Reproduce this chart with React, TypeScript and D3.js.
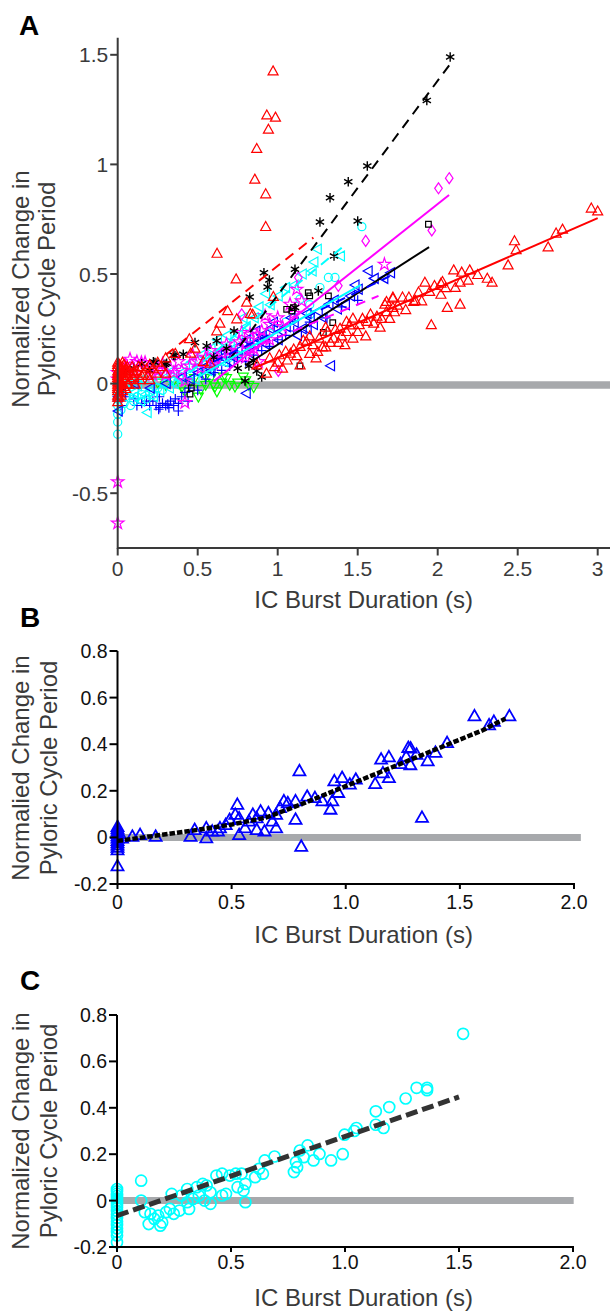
import React from "react";
import * as d3 from "d3";

type P = [number, number];

// ---------- tick values / labels ----------
const aTicksX = [0, 0.5, 1, 1.5, 2, 2.5, 3];
const aTickLabelsX = ["0", "0.5", "1", "1.5", "2", "2.5", "3"];
const aTicksY = [-0.5, 0, 0.5, 1, 1.5];
const aTickLabelsY = ["-0.5", "0", "0.5", "1", "1.5"];
const bcTicksX = [0, 0.5, 1, 1.5, 2];
const bcTickLabelsX = ["0", "0.5", "1.0", "1.5", "2.0"];
const bcTicksY = [-0.2, 0, 0.2, 0.4, 0.6, 0.8];
const bcTickLabelsY = ["-0.2", "0", "0.2", "0.4", "0.6", "0.8"];

// ---------- Panel A series ----------
const aRedSolid: P[] = [
  [0, 0.09], [0, 0.06], [0, 0.03], [0, 0.0], [0, -0.03], [0, -0.06], [0.01, 0.07], [0.01, 0.02], [0.01, -0.04],
  [0.02, 0.05], [0.02, 0.0], [0.02, -0.02], [0.03, 0.08], [0.03, 0.03], [0.04, -0.01], [0.05, 0.06], [0.05, 0.02],
  [0.06, 0.04], [0.07, 0.0], [0.08, 0.05], [0.1, 0.03], [0.12, 0.06], [0.14, 0.02], [0.16, 0.05], [0.19, 0.04], [0.22, 0.07],
  [0, 0.1], [0, 0.08], [0, 0.04], [0, 0.01], [0, -0.01], [0, -0.05], [0, -0.08], [0.01, 0.09], [0.01, 0.05], [0.01, -0.06],
  [0.02, 0.08], [0.02, -0.05], [0.03, 0.06], [0.03, 0.0], [0.03, -0.03], [0.04, 0.09], [0.04, 0.04], [0.05, -0.02],
  [0.06, 0.08], [0.06, 0.0], [0.07, 0.06], [0.08, 0.02], [0.09, 0.08], [0.1, 0.05], [0.11, 0.0], [0.13, 0.08],
  [0.15, 0.04], [0.18, 0.07], [0.2, 0.02], [0.24, 0.05], [0.27, 0.08], [0.3, 0.05],
  [0.87, 0.088], [0.93, 0.05], [0.98, 0.08], [1.01, 0.134], [1.03, 0.073], [1.08, 0.141], [1.14, 0.088], [1.14, 0.172],
  [1.18, 0.195], [1.22, 0.18], [1.25, 0.149], [1.26, 0.21], [1.31, 0.24], [1.35, 0.21], [1.39, 0.255], [1.42, 0.18],
  [1.43, 0.286], [1.43, 0.24], [1.47, 0.301], [1.47, 0.21], [1.51, 0.271], [1.56, 0.286], [1.6, 0.278], [1.65, 0.3],
  [1.67, 0.365], [1.68, 0.331], [1.68, 0.377], [1.72, 0.397], [1.72, 0.35], [1.73, 0.33], [1.72, 0.392], [1.78, 0.397],
  [1.82, 0.397], [1.85, 0.377], [1.86, 0.382], [1.92, 0.465], [1.95, 0.423], [1.96, 0.271], [2.02, 0.41], [2.02, 0.46],
  [2.03, 0.468], [2.06, 0.35], [2.1, 0.521], [2.11, 0.441], [2.14, 0.465], [2.14, 0.365], [2.15, 0.511], [2.19, 0.474],
  [2.2, 0.521], [2.31, 0.483], [2.34, 0.465], [2.44, 0.544], [2.48, 0.654], [2.49, 0.613], [2.69, 0.626], [2.74, 0.689],
  [2.78, 0.707], [2.96, 0.803], [3.0, 0.79], [1.1, 0.16], [1.2, 0.14], [1.3, 0.17], [1.33, 0.19], [1.06, 0.11],
  [0.95, 0.12], [1.0, 0.1], [1.05, 0.15], [1.12, 0.13], [1.16, 0.2], [1.2, 0.22], [1.24, 0.12], [1.28, 0.17],
  [1.3, 0.26], [1.36, 0.25], [1.38, 0.19], [1.4, 0.22], [1.45, 0.27], [1.5, 0.24], [1.53, 0.3], [1.55, 0.22],
  [1.58, 0.32], [1.62, 0.31], [1.64, 0.26], [1.7, 0.3], [1.75, 0.36], [1.8, 0.34], [1.88, 0.42], [1.9, 0.38],
  [1.98, 0.45], [2.05, 0.44], [2.25, 0.5],
];
const aRedDashed: P[] = [
  [0, 0.05], [0, 0.02], [0, -0.02], [0.03, 0.1], [0.05, 0.07], [0.1, 0.06], [0.15, 0.08], [0.2, 0.09], [0.25, 0.1],
  [0.3, 0.12], [0.36, 0.14], [0.448, 0.207], [0.456, 0.141], [0.483, 0.164], [0.535, 0.104], [0.577, 0.096],
  [0.619, 0.243], [0.621, 0.597], [0.639, 0.278], [0.687, 0.335], [0.74, 0.48], [0.744, 0.298], [0.806, 0.374],
  [0.829, 0.322], [0.844, 0.319], [0.857, 0.935], [0.869, 1.075], [0.925, 0.868], [0.925, 0.719], [0.932, 1.228],
  [0.942, 1.163], [0.971, 1.429], [0.973, 0.4], [0.986, 1.218],
];
const aBlackStar: P[] = [
  [0.05, 0.05], [0.1, 0.07], [0.15, 0.09], [0.2, 0.06], [0.223, 0.1], [0.233, 0.096], [0.296, 0.088], [0.306, 0.093],
  [0.348, 0.13], [0.358, 0.127], [0.41, 0.134], [0.483, 0.187], [0.556, 0.172], [0.619, 0.195], [0.727, 0.24],
  [0.796, 0.012], [0.825, 0.395], [0.848, 0.104], [0.869, 0.058], [0.914, 0.506], [0.937, 0.441], [0.948, 0.473],
  [1.108, 0.522], [1.108, 0.347], [1.254, 0.423], [1.264, 0.737], [1.327, 0.848], [1.352, 0.582], [1.441, 0.921],
  [1.5, 0.742], [1.56, 0.993], [1.932, 1.292], [2.078, 1.49],
  [0.6, 0.12], [0.68, 0.16], [0.75, 0.07], [0.82, 0.08], [0.9, 0.03],
];
const aBlackSquare: P[] = [
  [0, 0.0], [0.02, -0.02], [0.452, -0.048], [0.46, -0.02], [1.056, 0.339], [1.088, 0.331], [1.098, 0.347],
  [1.139, 0.081], [1.191, 0.415], [1.2, 0.4], [1.285, 0.233], [1.317, 0.4], [1.344, 0.278], [1.942, 0.727],
];
const aMagentaDiamond: P[] = [
  [0, 0.02], [0.01, -0.02], [0.775, 0.316], [1.004, 0.058], [1.129, 0.484], [1.379, 0.446], [1.55, 0.651],
  [1.963, 0.699], [2.005, 0.891], [2.072, 0.937],
];
const aMagentaStar: P[] = [
  [0, -0.448], [0, -0.637], [0, 0.05], [0, 0.02], [0.077, 0.111], [0.148, 0.096], [0.171, 0.096], [0.2, 0.07],
  [0.25, 0.06], [0.3, 0.04], [0.35, 0.05], [0.42, -0.087], [0.42, 0.012], [0.45, 0.08], [0.5, 0.1], [0.55, 0.12],
  [0.6, 0.09], [0.65, 0.14], [0.7, 0.15], [0.775, 0.233], [0.8, 0.12], [0.8, 0.18], [0.827, 0.225], [0.85, 0.16],
  [0.88, 0.1], [0.9, 0.24], [0.921, 0.309], [0.95, 0.27], [1.0, 0.3], [1.077, 0.362], [1.119, 0.43], [1.15, 0.377],
  [1.667, 0.544],
  [0.05, 0.08], [0.1, 0.05], [0.12, 0.1], [0.22, 0.04], [0.28, 0.09], [0.33, 0.07], [0.38, 0.1], [0.4, 0.06],
  [0.47, 0.13], [0.52, 0.07], [0.58, 0.15], [0.62, 0.11], [0.68, 0.18], [0.72, 0.13], [0.76, 0.19], [0.83, 0.16],
  [0.87, 0.22], [0.95, 0.2], [1.03, 0.26], [1.1, 0.32],
];
const aBlueLeftTri: P[] = [
  [0, -0.125], [0, -0.06], [0.02, -0.03], [0.1, 0.0], [0.2, -0.02], [0.3, 0.0], [0.4, 0.03], [0.5, 0.05],
  [0.55, 0.08], [0.6, 0.1], [0.65, 0.12], [0.7, 0.1], [0.75, 0.15], [0.8, -0.044], [0.8, 0.2], [0.85, 0.18],
  [0.9, 0.22], [0.95, 0.25], [1.0, 0.2], [1.05, 0.26], [1.1, 0.28], [1.15, 0.25], [1.181, 0.248], [1.2, 0.3],
  [1.25, 0.33], [1.317, 0.362], [1.327, 0.081], [1.37, 0.34], [1.452, 0.4], [1.5, 0.43], [1.562, 0.514],
  [1.6, 0.48], [1.66, 0.48], [1.702, 0.506],
  [0.45, 0.02], [0.58, 0.06], [0.62, 0.13], [0.68, 0.15], [0.72, 0.12], [0.78, 0.18], [0.82, 0.14], [0.86, 0.24],
  [0.88, 0.2], [0.92, 0.18], [0.97, 0.28], [1.02, 0.24], [1.08, 0.3], [1.12, 0.22], [1.18, 0.32], [1.22, 0.27],
  [1.28, 0.3], [1.35, 0.38], [1.42, 0.36], [1.48, 0.45],
];
const aBluePlus: P[] = [
  [0, -0.05], [0, -0.08], [0.02, -0.1], [0.05, -0.06], [0.1, -0.07], [0.15, -0.09], [0.2, -0.1], [0.22, -0.08],
  [0.256, -0.117], [0.264, -0.109], [0.28, -0.09], [0.3, -0.1], [0.313, -0.094], [0.33, -0.08], [0.35, -0.1],
  [0.379, -0.125], [0.4, -0.06], [0.42, -0.04], [0.45, -0.02], [0.6, 0.05], [0.7, 0.08], [0.8, 0.1], [0.9, 0.15],
  [1.0, 0.2], [1.1, 0.24], [1.2, 0.28], [1.3, 0.3], [1.4, 0.35], [1.5, 0.38],
  [0.12, -0.1], [0.18, -0.08], [0.24, -0.1], [0.26, -0.06], [0.32, -0.11], [0.36, -0.07], [0.38, -0.09],
  [0.44, -0.08], [0.5, -0.03], [0.55, 0.02], [0.65, 0.06], [0.75, 0.12], [0.85, 0.13], [0.95, 0.17], [1.05, 0.22],
];
const aCyanCircle: P[] = [
  [0, -0.14], [0, -0.175], [0, -0.231], [0, -0.1], [0, -0.07], [0.05, -0.06], [0.1, -0.08], [0.15, -0.05],
  [0.2, -0.04], [0.25, -0.02], [0.3, 0.0], [0.4, 0.03], [0.5, 0.06], [0.6, 0.08], [0.7, 0.12], [0.8, 0.15],
  [0.9, 0.2], [1.0, 0.25], [1.1, 0.3], [1.139, 0.385], [1.203, 0.316], [1.264, 0.438], [1.317, 0.484],
  [1.358, 0.484], [1.526, 0.716],
  [0.02, -0.12], [0.04, -0.09], [0.08, -0.1], [0.12, -0.06], [0.18, -0.07], [0.22, -0.05], [0.28, -0.03],
  [0.35, 0.01], [0.45, 0.04], [0.55, 0.07], [0.65, 0.1], [0.75, 0.13], [0.85, 0.18], [0.95, 0.23], [1.05, 0.28], [1.2, 0.36],
];
const aCyanLeftTri: P[] = [
  [0, -0.05], [0.02, 0.0], [0.05, -0.03], [0.1, -0.04], [0.12, -0.01], [0.15, 0.02], [0.181, -0.132], [0.2, -0.03],
  [0.25, 0.01], [0.3, 0.03], [0.35, 0.0], [0.4, 0.05], [0.45, 0.04], [0.5, 0.08], [0.55, 0.12], [0.6, 0.1],
  [0.65, 0.15], [0.7, 0.18], [0.75, 0.22], [0.8, 0.26], [0.85, 0.3], [0.921, 0.41], [1.046, 0.438], [1.212, 0.514],
  [1.223, 0.555], [1.244, 0.613], [1.389, 0.582],
  [0.08, 0.0], [0.1, -0.06], [0.14, -0.08], [0.17, -0.05], [0.2, 0.01], [0.22, -0.06], [0.26, -0.03], [0.28, 0.04],
  [0.32, -0.02], [0.34, 0.06], [0.38, 0.02], [0.42, 0.08], [0.46, 0.1], [0.48, 0.02], [0.52, 0.13], [0.56, 0.06],
  [0.58, 0.16], [0.62, 0.2], [0.66, 0.1], [0.68, 0.22], [0.72, 0.16], [0.78, 0.3], [0.82, 0.2], [0.88, 0.35],
  [0.95, 0.36], [1.0, 0.4], [1.1, 0.45], [1.15, 0.5],
];
const aGreenDownTri: P[] = [
  [0.25, 0.0], [0.3, -0.01], [0.35, 0.01], [0.4, -0.02], [0.45, 0.0], [0.504, -0.064], [0.55, -0.01], [0.55, 0.03],
  [0.598, -0.003], [0.608, -0.018], [0.65, 0.0], [0.66, 0.027], [0.7, -0.01], [0.733, -0.018], [0.785, 0.027],
  [0.8, 0.01], [0.85, -0.02],
  [0.42, -0.04], [0.48, 0.02], [0.52, -0.03], [0.58, 0.02], [0.62, -0.04], [0.68, 0.02], [0.75, 0.0], [0.82, -0.01],
];

// Panel A fit lines (start / end)
const aFitRedSolid: P[] = [[0.85, 0.07], [3.0, 0.755]];
const aFitRedDashed: P[] = [[0.3, 0.131], [1.223, 0.666]];
const aFitBlackDashed: P[] = [[0.7, 0.11], [2.078, 1.458]];
const aFitBlackSolid: P[] = [[0.8, 0.084], [1.946, 0.623]];
const aFitMagentaSolid: P[] = [[0.6, 0.01], [2.071, 0.86]];
const aFitMagentaDashed: P[] = [[0.9, 0.18], [1.63, 0.4]];
const aFitBlueDashed: P[] = [[0.6, 0.1], [1.7, 0.49]];
const aFitCyanDashed: P[] = [[0.45, 0.05], [1.4, 0.62]];
const aFitCyanSolid: P[] = [[0.5, 0.03], [1.52, 0.45]];

// ---------- Panel B ----------
const bPoints: P[] = [
  [0, 0.05], [0, 0.04], [0, 0.03], [0, 0.02], [0, 0.01], [0, 0], [0, -0.01], [0, -0.02], [0, -0.03], [0, -0.04],
  [0, -0.05], [0, -0.119], [0.02, 0.0], [0.065, 0.008], [0.099, 0.015], [0.167, 0.008], [0.32, 0.008], [0.338, 0.037],
  [0.389, 0.001], [0.389, 0.044], [0.415, 0.03], [0.44, 0.03], [0.449, 0.044], [0.474, 0.058], [0.491, 0.08],
  [0.516, 0.102], [0.525, 0.145], [0.533, 0.087], [0.533, 0.015], [0.559, 0.044], [0.576, 0.073], [0.593, 0.102],
  [0.61, 0.087], [0.61, 0.037], [0.627, 0.116], [0.644, 0.03], [0.661, 0.109], [0.678, 0.073], [0.695, 0.102],
  [0.695, 0.044], [0.712, 0.131], [0.729, 0.16], [0.746, 0.152], [0.78, 0.16], [0.78, 0.081], [0.797, 0.289],
  [0.805, -0.035], [0.831, 0.18], [0.865, 0.174], [0.898, 0.16], [0.933, 0.124], [0.941, 0.16], [0.95, 0.246],
  [0.967, 0.196], [0.984, 0.26], [1.018, 0.232], [1.044, 0.253], [1.129, 0.234], [1.155, 0.339], [1.163, 0.28],
  [1.189, 0.349], [1.189, 0.26], [1.24, 0.32], [1.265, 0.35], [1.274, 0.389], [1.283, 0.315], [1.284, 0.387],
  [1.31, 0.36], [1.334, 0.089], [1.359, 0.332], [1.393, 0.368], [1.444, 0.41], [1.564, 0.525], [1.628, 0.486],
  [1.649, 0.501], [1.717, 0.525],
];
const bFit: P[] = [
  [0, -0.015], [0.3, 0.025], [0.5, 0.055], [0.65, 0.085], [0.8, 0.14], [1.0, 0.22], [1.2, 0.3], [1.4, 0.38],
  [1.6, 0.46], [1.7, 0.51],
];

// ---------- Panel C ----------
const cPoints: P[] = [
  [0, 0.05], [0, 0.04], [0, 0.03], [0, 0.02], [0, 0.01], [0, 0], [0, -0.01], [0, -0.02], [0, -0.03], [0, -0.045],
  [0, -0.06], [0, -0.075], [0, -0.09], [0, -0.105], [0, -0.12], [0, -0.135], [0, -0.15], [0, -0.18],
  [0.106, 0.086], [0.106, 0.0], [0.122, -0.05], [0.139, -0.101], [0.147, -0.057], [0.164, -0.079], [0.181, -0.065],
  [0.19, -0.108], [0.198, -0.094], [0.215, -0.05], [0.232, -0.036], [0.24, 0.029], [0.249, -0.057], [0.274, -0.043],
  [0.282, 0.022], [0.308, 0.05], [0.308, -0.007], [0.316, -0.036], [0.333, 0.007], [0.35, 0.058], [0.359, 0.022],
  [0.376, 0.072], [0.384, 0.0], [0.393, 0.065], [0.41, 0.036], [0.41, -0.014], [0.436, 0.108], [0.461, 0.116],
  [0.461, 0.022], [0.478, 0.029], [0.495, 0.108], [0.521, 0.116], [0.529, 0.058], [0.546, 0.116], [0.555, 0.043],
  [0.563, 0.072], [0.563, -0.007], [0.606, 0.101], [0.623, 0.137], [0.64, 0.116], [0.648, 0.173], [0.691, 0.19],
  [0.776, 0.123], [0.785, 0.166], [0.79, 0.144], [0.802, 0.216], [0.819, 0.187], [0.836, 0.238], [0.862, 0.173],
  [0.888, 0.201], [0.939, 0.173], [0.99, 0.2], [0.998, 0.284], [1.041, 0.3], [1.05, 0.313], [1.135, 0.385],
  [1.135, 0.327], [1.169, 0.313], [1.194, 0.403], [1.266, 0.44], [1.314, 0.486], [1.36, 0.486], [1.36, 0.476],
  [1.518, 0.719],
];
const cFit: P[] = [[0, -0.065], [1.5, 0.447]];

// ---------- marker shapes ----------
const triUp = (w: number, h: number) => `M0,${-h / 2}L${w / 2},${h / 2}L${-w / 2},${h / 2}Z`;
const triDown = (w: number, h: number) => `M0,${h / 2}L${w / 2},${-h / 2}L${-w / 2},${-h / 2}Z`;
const triLeft = (w: number, h: number) => `M${-h / 2},0L${h / 2},${-w / 2}L${h / 2},${w / 2}Z`;
const diamond = `M0,-5.5L3.8,0L0,5.5L-3.8,0Z`;
const starPath = d3.symbol().type(d3.symbolStar).size(48)() as string;
const asteriskPath = d3.symbol().type(d3.symbolAsterisk).size(64)() as string;
const plusPath = d3.symbol().type(d3.symbolPlus).size(34)() as string;
const squarePath = d3.symbol().type(d3.symbolSquare2).size(40)() as string;
const circlePath = d3.symbol().type(d3.symbolCircle).size(52)() as string;
const bigCirclePath = d3.symbol().type(d3.symbolCircle).size(95)() as string;

const FONT = "'Liberation Sans', Arial, Helvetica, sans-serif";

// ---------- scales ----------
const xA = d3.scaleLinear().domain([0, 3.075]).range([117.7, 609.7]);
const yA = d3.scaleLinear().domain([-0.75, 1.578]).range([548, 37.7]);
const xB = d3.scaleLinear().domain([0, 2]).range([117.5, 574]);
const yB = d3.scaleLinear().domain([-0.2, 0.8]).range([884, 651]);
const xC = d3.scaleLinear().domain([0, 2]).range([117, 573]);
const yC = d3.scaleLinear().domain([-0.2, 0.8]).range([1247, 1015]);

type Scale = d3.ScaleLinear<number, number>;

function Markers({ pts, x, y, d, color, sw = 1.2 }: { pts: P[]; x: Scale; y: Scale; d: string; color: string; sw?: number }) {
  return (
    <g fill="none" stroke={color} strokeWidth={sw}>
      {pts.map((p, i) => (
        <path key={i} d={d} transform={`translate(${x(p[0])},${y(p[1])})`} />
      ))}
    </g>
  );
}

function Fit({ pts, x, y, color, dash, sw = 2 }: { pts: P[]; x: Scale; y: Scale; color: string; dash?: string; sw?: number }) {
  const line = d3.line<P>().x((p) => x(p[0])).y((p) => y(p[1]));
  return <path d={line(pts) as string} fill="none" stroke={color} strokeWidth={sw} strokeDasharray={dash} />;
}

function YLabel({ cy, l1, l2, b1, b2 }: { cy: number; l1: string; l2: string; b1: number; b2: number }) {
  return (
    <g fontFamily={FONT} fontSize={24} fill="#3a3a3a" textAnchor="middle">
      <text transform={`translate(${b1},${cy}) rotate(-90)`}>{l1}</text>
      <text transform={`translate(${b2},${cy}) rotate(-90)`}>{l2}</text>
    </g>
  );
}

function Axes({
  x, y, ticksX, labelsX, ticksY, labelsY, xLen, yLen, xBase, tickColor, axisColor, fs, xEnd, yTop,
}: {
  x: Scale; y: Scale; ticksX: number[]; labelsX: string[]; ticksY: number[]; labelsY: string[];
  xLen: number; yLen: number; xBase: number; tickColor: string; axisColor: string; fs: number; xEnd: number; yTop: number;
}) {
  const x0 = x.range()[0];
  const y0 = y.range()[0];
  return (
    <g>
      <line x1={x0} x2={xEnd} y1={y0} y2={y0} stroke={axisColor} strokeWidth={2} />
      <line x1={x0} x2={x0} y1={y0 + 1} y2={yTop} stroke={axisColor} strokeWidth={2} />
      {ticksX.map((t, i) => (
        <g key={"x" + i}>
          <line x1={x(t)} x2={x(t)} y1={y0} y2={y0 + xLen} stroke={axisColor} strokeWidth={2} />
          <text x={x(t)} y={xBase} textAnchor="middle" fontFamily={FONT} fontSize={fs} fill={tickColor}>
            {labelsX[i]}
          </text>
        </g>
      ))}
      {ticksY.map((t, i) => (
        <g key={"y" + i}>
          <line x1={x0 - yLen} x2={x0} y1={y(t)} y2={y(t)} stroke={axisColor} strokeWidth={2} />
          <text x={x0 - yLen - 2} y={y(t) + fs * 0.36} textAnchor="end" fontFamily={FONT} fontSize={fs} fill={tickColor}>
            {labelsY[i]}
          </text>
        </g>
      ))}
    </g>
  );
}

export default function App() {
  const gray = "#a7a9ac";
  return (
    <svg width={610} height={1311} style={{ position: "absolute", left: 0, top: 0, background: "#fff" }}>
      <rect width={610} height={1311} fill="#fff" />
      {/* ---------------- Panel A ---------------- */}
      <text x={19} y={35} fontFamily={FONT} fontWeight="bold" fontSize={28} fill="#000">A</text>
      <line x1={xA(0)} x2={610} y1={yA(0) + 1.5} y2={yA(0) + 1.5} stroke={gray} strokeWidth={7.5} />
      <Markers pts={aGreenDownTri} x={xA} y={yA} d={triDown(10, 9)} color="#00ff00" />
      <Markers pts={aBluePlus} x={xA} y={yA} d={plusPath} color="#0000ff" />
      <Markers pts={aCyanCircle} x={xA} y={yA} d={circlePath} color="#00ffff" />
      <Markers pts={aCyanLeftTri} x={xA} y={yA} d={triLeft(10, 9)} color="#00ffff" />
      <Markers pts={aBlueLeftTri} x={xA} y={yA} d={triLeft(10, 9)} color="#0000ff" />
      <Markers pts={aMagentaStar} x={xA} y={yA} d={starPath} color="#ff00ff" />
      <Markers pts={aMagentaDiamond} x={xA} y={yA} d={diamond} color="#ff00ff" />
      <Markers pts={aBlackSquare} x={xA} y={yA} d={squarePath} color="#000" />
      <Markers pts={aBlackStar} x={xA} y={yA} d={asteriskPath} color="#000" sw={1.4} />
      <Markers pts={aRedDashed} x={xA} y={yA} d={triUp(10, 9)} color="#ff0000" />
      <Markers pts={aRedSolid} x={xA} y={yA} d={triUp(10, 9)} color="#ff0000" />
      <Fit pts={aFitRedSolid} x={xA} y={yA} color="#ff0000" />
      <Fit pts={aFitRedDashed} x={xA} y={yA} color="#ff0000" dash="10,7" />
      <Fit pts={aFitBlackDashed} x={xA} y={yA} color="#000" dash="10,7" />
      <Fit pts={aFitBlackSolid} x={xA} y={yA} color="#000" />
      <Fit pts={aFitMagentaSolid} x={xA} y={yA} color="#ff00ff" />
      <Fit pts={aFitMagentaDashed} x={xA} y={yA} color="#ff00ff" dash="10,7" />
      <Fit pts={aFitBlueDashed} x={xA} y={yA} color="#0000ff" dash="10,7" />
      <Fit pts={aFitCyanDashed} x={xA} y={yA} color="#00ffff" dash="10,7" />
      <Fit pts={aFitCyanSolid} x={xA} y={yA} color="#00ffff" />
      <Axes x={xA} y={yA} ticksX={aTicksX} labelsX={aTickLabelsX} ticksY={aTicksY} labelsY={aTickLabelsY}
        xLen={7.5} yLen={7.5} xBase={576} tickColor="#3a3a3a" axisColor="#3a3a3a" fs={21} xEnd={610} yTop={37.7} />
      <YLabel cy={289} l1="Normalized Change in" l2="Pyloric Cycle Period" b1={28.5} b2={55} />
      <text x={363.7} y={608} textAnchor="middle" fontFamily={FONT} fontSize={24} fill="#3a3a3a">IC Burst Duration (s)</text>

      {/* ---------------- Panel B ---------------- */}
      <text x={20} y={627} fontFamily={FONT} fontWeight="bold" fontSize={28} fill="#000">B</text>
      <line x1={xB(0)} x2={xB(2.03)} y1={yB(0)} y2={yB(0)} stroke={gray} strokeWidth={7} />
      <Markers pts={bPoints} x={xB} y={yB} d={triUp(12, 10.5)} color="#0000ff" sw={1.8} />
      <Fit pts={bFit} x={xB} y={yB} color="#000" dash="5.5,2" sw={4.5} />
      <Axes x={xB} y={yB} ticksX={bcTicksX} labelsX={bcTickLabelsX} ticksY={bcTicksY} labelsY={bcTickLabelsY}
        xLen={5} yLen={8} xBase={909} tickColor="#111" axisColor="#000" fs={19.5} xEnd={xB(2) + 1} yTop={yB(0.8)} />
      <YLabel cy={768} l1="Normalied Change in" l2="Pyloric Cycle Period" b1={29} b2={56.5} />
      <text x={363.7} y={943} textAnchor="middle" fontFamily={FONT} fontSize={24} fill="#3a3a3a">IC Burst Duration (s)</text>

      {/* ---------------- Panel C ---------------- */}
      <text x={20} y={990} fontFamily={FONT} fontWeight="bold" fontSize={28} fill="#000">C</text>
      <line x1={xC(0)} x2={xC(2.003)} y1={yC(0)} y2={yC(0)} stroke={gray} strokeWidth={7} />
      <Markers pts={cPoints} x={xC} y={yC} d={bigCirclePath} color="#00ffff" sw={1.7} />
      <Fit pts={cFit} x={xC} y={yC} color="#333" dash="12,5" sw={5} />
      <Axes x={xC} y={yC} ticksX={bcTicksX} labelsX={bcTickLabelsX} ticksY={bcTicksY} labelsY={bcTickLabelsY}
        xLen={5} yLen={8} xBase={1269} tickColor="#111" axisColor="#000" fs={19.5} xEnd={xC(2) + 1} yTop={yC(0.8)} />
      <YLabel cy={1131} l1="Normalized Change in" l2="Pyloric Cycle Period" b1={29} b2={56.5} />
      <text x={363.7} y={1306} textAnchor="middle" fontFamily={FONT} fontSize={24} fill="#3a3a3a">IC Burst Duration (s)</text>
    </svg>
  );
}
